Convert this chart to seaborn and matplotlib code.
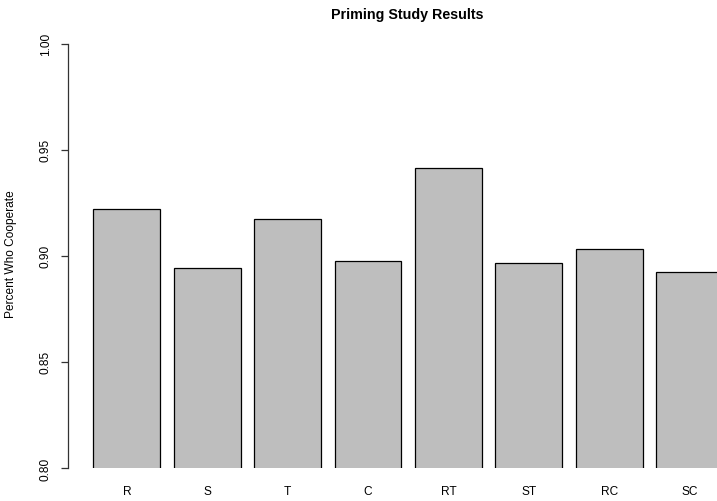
import matplotlib
matplotlib.use("Agg")
import matplotlib.pyplot as plt
import seaborn as sns
import pandas as pd

# Share of participants who cooperated, per priming condition
conditions = ["R", "S", "T", "C", "RT", "ST", "RC", "SC"]
cooperate = [0.922, 0.8943, 0.9172, 0.8974, 0.9413, 0.8966, 0.9033, 0.8925]
y_ticks = [0.80, 0.85, 0.90, 0.95, 1.00]
y_tick_labels = ["0.80", "0.85", "0.90", "0.95", "1.00"]

df = pd.DataFrame({"condition": conditions, "cooperate": cooperate})

sns.set_style("white")
plt.rcParams["font.family"] = ["Liberation Sans", "DejaVu Sans"]
plt.rcParams["text.color"] = "black"
plt.rcParams["axes.labelcolor"] = "black"
plt.rcParams["xtick.color"] = "black"
plt.rcParams["ytick.color"] = "black"

W, H = 717, 502
fig = plt.figure(figsize=(W / 100, H / 100), dpi=100)
# plot region (pixel coordinates measured from the top-left corner)
left_px, right_px, top_px, bottom_px = 80, 723, 44.7, 469
ax = fig.add_axes([left_px / W, 1 - bottom_px / H,
                   (right_px - left_px) / W, (bottom_px - top_px) / H])

sns.barplot(data=df, x="condition", y="cooperate", order=conditions,
            color="#BEBEBE", saturation=1, edgecolor="black", linewidth=0.9,
            width=1 / 1.2, ax=ax, errorbar=None)

ax.set_xlim(-0.7 / 1.2, 8.9 / 1.2)
ax.set_ylim(0.80, 1.00)

for side in ["top", "right", "bottom"]:
    ax.spines[side].set_visible(False)
ax.spines["left"].set_position(("outward", 8.4))
ax.spines["left"].set_linewidth(0.9)
ax.spines["left"].set_color("#333333")

ax.set_yticks(y_ticks)
ax.set_yticklabels(y_tick_labels, rotation=90, va="center", fontsize=8.6)
ax.tick_params(axis="y", left=True, length=4.8, width=0.9, pad=7, color="#333333",
               labelcolor="black")
ax.tick_params(axis="x", bottom=False, length=0, pad=12, labelsize=8.6,
               labelcolor="black")

ax.set_xlabel("")
ax.set_ylabel("Percent Who Cooperate", fontsize=8.6, color="black")
ax.yaxis.set_label_coords(17.5 / W, 1 - 254 / H, transform=fig.transFigure)

fig.text(407 / W, 1 - 15 / H, "Priming Study Results", ha="center", va="center",
         fontsize=10.3, fontweight="bold", color="black")

fig.savefig("out.png", dpi=100, facecolor="white")
